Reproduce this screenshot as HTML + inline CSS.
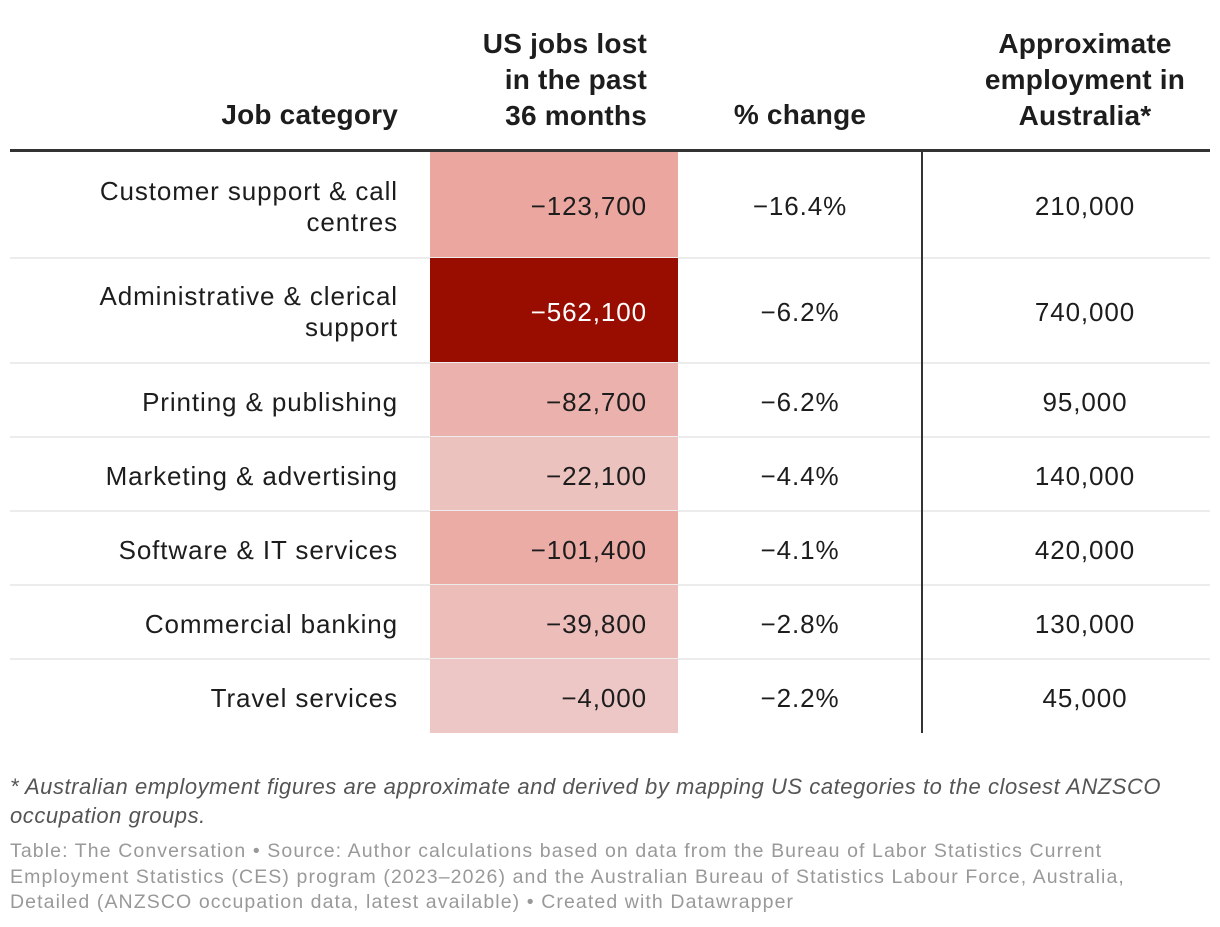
<!DOCTYPE html>
<html><head><meta charset="utf-8"><style>
body{margin:0;width:1220px;height:927px;background:#fff;font-family:"Liberation Sans",sans-serif;color:#1d1d1d;position:relative;overflow:hidden}
.a{position:absolute;white-space:nowrap}
.h{font-weight:bold;font-size:28px;line-height:36px;letter-spacing:0.2px;color:#1d1d1d}
.c{font-size:26px;line-height:31px;letter-spacing:0.9px}
.r{text-align:right}.m{text-align:center}
</style></head><body>
<div id="tbl"></div>
<div class="a h r" style="right:822px;top:97px">Job category</div>
<div class="a h r" style="right:573px;top:26px">US jobs lost<br>in the past<br>36 months</div>
<div class="a h m" style="left:700px;width:200px;top:97px">% change</div>
<div class="a h m" style="left:960px;width:250px;top:26px">Approximate<br>employment in<br>Australia*</div>
<div class="a" style="left:10px;top:149px;width:1200px;height:3px;background:#333"></div>
<div class="a" style="left:10px;top:772px;font-size:22px;line-height:29px;font-style:italic;color:#555;letter-spacing:0.55px">* Australian employment figures are approximate and derived by mapping US categories to the closest ANZSCO<br>occupation groups.</div>
<div class="a" style="left:10px;top:839px;font-size:19.5px;line-height:25.5px;color:#999;letter-spacing:1.1px">Table: The Conversation • Source: Author calculations based on data from the Bureau of Labor Statistics Current<br>Employment Statistics (CES) program (2023–2026) and the Australian Bureau of Statistics Labour Force, Australia,<br>Detailed (ANZSCO occupation data, latest available) • Created with Datawrapper</div>
<script>
const categories=[["Customer support & call","centres"],["Administrative & clerical","support"],["Printing & publishing"],["Marketing & advertising"],["Software & IT services"],["Commercial banking"],["Travel services"]];
const jobsLost=[-123700,-562100,-82700,-22100,-101400,-39800,-4000];
const pctChange=[-16.4,-6.2,-6.2,-4.4,-4.1,-2.8,-2.2];
const ausEmployment=[210000,740000,95000,140000,420000,130000,45000];
const tbl=document.getElementById('tbl');
function fmt(n){return (n<0?'−':'')+Math.abs(n).toLocaleString('en-US');}
function lerp(a,b,t){return a.map((v,i)=>Math.round(v+(b[i]-v)*t));}
function colorFor(v){
  const t=Math.abs(v)/562100;
  const c0=[237,200,198],c1=[234,166,159],c2=[153,13,0];
  const c=t<0.22?lerp(c0,c1,t/0.22):lerp(c1,c2,(t-0.22)/0.78);
  return 'rgb('+c.join(',')+')';
}
let y=152;
for(let i=0;i<categories.length;i++){
  const h=categories[i].length>1?105.5:74;
  const row=document.createElement('div');
  row.className='a';
  
  
  row.style.cssText=`left:0;top:${y}px;width:1220px;height:${h}px`;
  const ty=(h-(categories[i].length*31))/2+2;
  const mid=(h-31)/2+2;
  const cell=document.createElement('div');
  cell.className='a';
  
  
  cell.style.cssText=`left:430px;top:0;width:248px;height:${h}px;background:${colorFor(jobsLost[i])}`;
  row.appendChild(cell);
  const cat=document.createElement('div');
  cat.className='a c r';
  
  
  cat.style.cssText=`right:822px;top:${ty}px`;
  cat.innerHTML=categories[i].join('<br>');
  row.appendChild(cat);
  const jl=document.createElement('div');
  jl.className='a c r';
  
  
  jl.style.cssText=`right:573px;top:${mid}px;color:${Math.abs(jobsLost[i])>300000?'#fff':'#1d1d1d'}`;
  jl.textContent=fmt(jobsLost[i]);
  row.appendChild(jl);
  const pc=document.createElement('div');
  pc.className='a c m';
  
  
  pc.style.cssText=`left:700px;width:200px;top:${mid}px`;
  pc.textContent='−'+Math.abs(pctChange[i]).toFixed(1)+'%';
  row.appendChild(pc);
  const au=document.createElement('div');
  au.className='a c m';
  
  
  au.style.cssText=`left:960px;width:250px;top:${mid}px`;
  au.textContent=ausEmployment[i].toLocaleString('en-US');
  row.appendChild(au);
  if(i<categories.length-1){
    const ln=document.createElement('div');
    ln.className='a';
    
    
    ln.style.cssText=`left:10px;top:${h-1}px;width:1200px;height:2px;background:#ececec`;
    row.appendChild(ln);
  }
  tbl.appendChild(row);
  y+=h;
}
const vl=document.createElement('div');
vl.className='a';


vl.style.cssText=`left:921px;top:152px;width:2px;height:${y-152}px;background:#333`;
tbl.appendChild(vl);
</script>
</body></html>
